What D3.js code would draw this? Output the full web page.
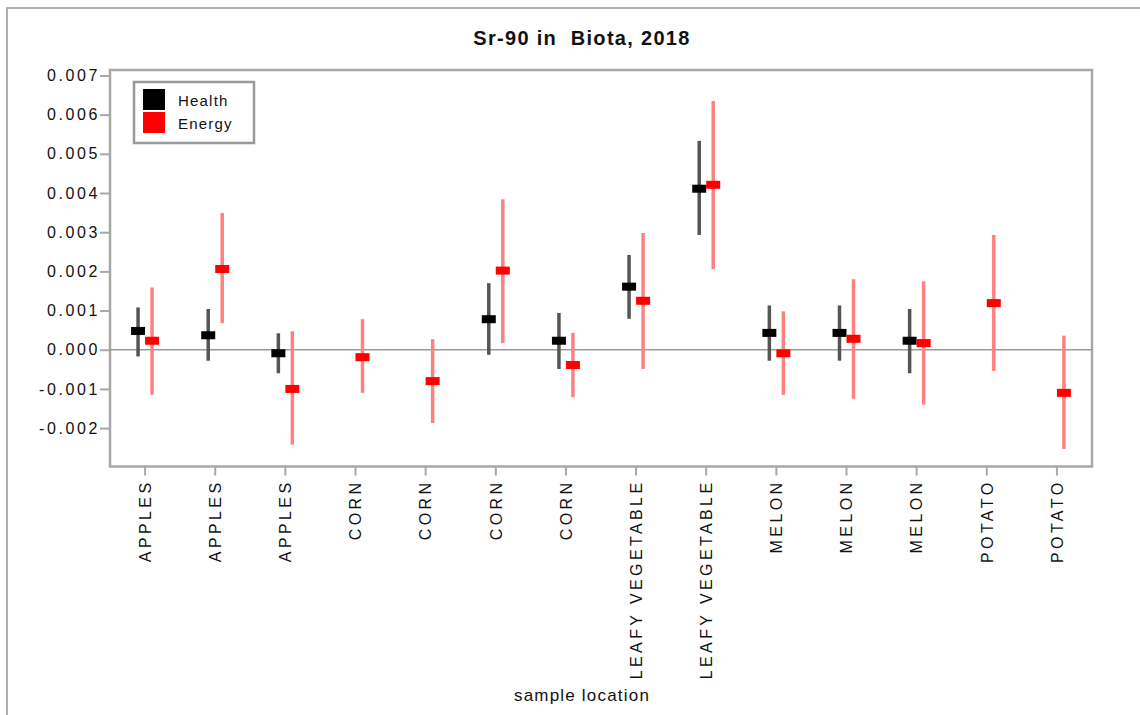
<!DOCTYPE html>
<html>
<head>
<meta charset="utf-8">
<script src="https://cdn.jsdelivr.net/npm/d3@7"></script>
<style>
  html, body { margin: 0; padding: 0; background: #fff; }
  svg { display: block; font-family: "Liberation Sans", Arial, sans-serif; }
</style>
</head>
<body>
<svg id="chart" width="1140" height="715"></svg>
<script>
const categories = ["APPLES","APPLES","APPLES","CORN","CORN","CORN","CORN","LEAFY VEGETABLE","LEAFY VEGETABLE","MELON","MELON","MELON","POTATO","POTATO"];
const healthMean = [0.00048, 0.00037, -0.00009, null, null, 0.00078, 0.00023, 0.00161, 0.00411, 0.00043, 0.00043, 0.00023, null, null];
const healthLow  = [-0.00017, -0.00028, -0.00060, null, null, -0.00013, -0.00049, 0.00079, 0.00293, -0.00028, -0.00028, -0.00060, null, null];
const healthHigh = [0.00108, 0.00104, 0.00042, null, null, 0.00170, 0.00094, 0.00242, 0.00533, 0.00113, 0.00113, 0.00104, null, null];
const energyMean = [0.00023, 0.00206, -0.00100, -0.00019, -0.00080, 0.00202, -0.00039, 0.00125, 0.00421, -0.00009, 0.00028, 0.00017, 0.00119, -0.00110];
const energyLow  = [-0.00115, 0.00068, -0.00242, -0.00110, -0.00187, 0.00017, -0.00121, -0.00049, 0.00206, -0.00115, -0.00125, -0.00140, -0.00054, -0.00253];
const energyHigh = [0.00159, 0.00349, 0.00047, 0.00078, 0.00027, 0.00384, 0.00043, 0.00298, 0.00635, 0.00098, 0.00180, 0.00175, 0.00293, 0.00036];
const yTicks = [-0.002, -0.001, 0, 0.001, 0.002, 0.003, 0.004, 0.005, 0.006, 0.007];
const yTickLabels = ["-0.002", "-0.001", "0.000", "0.001", "0.002", "0.003", "0.004", "0.005", "0.006", "0.007"];
const seriesNames = ["Health", "Energy"];
const seriesColors = ["#000000", "#ff0000"];
const seriesBarColors = ["#555555", "#ff8080"];
const titleText = "Sr-90 in  Biota, 2018";
const xTitle = "sample location";

(function () {
const svg = d3.select("#chart");
const pL = 110, pR = 1092, pT = 70, pB = 466.5;

// outer frame
svg.append("path").attr("d", "M7,715 V8 H1140").attr("fill", "none").attr("stroke", "#b0b0b0").attr("stroke-width", 2);

const x = d3.scaleBand().domain(d3.range(categories.length)).range([pL, pR]);
const y = d3.scaleLinear().domain([-0.00298, 0.00714]).range([pB, pT]);
const gray = "#a8a8a8";

// title
svg.append("text").attr("x", 582).attr("y", 45).attr("text-anchor", "middle")
  .style("white-space", "pre").attr("xml:space", "preserve")
  .attr("font-size", 20).attr("font-weight", "bold").attr("letter-spacing", 1.3).attr("fill", "#111")
  .text(titleText);

// y axis
const yAxis = svg.append("g").attr("transform", `translate(${pL},0)`)
  .call(d3.axisLeft(y).tickValues(yTicks).tickSize(10).tickFormat((d, i) => yTickLabels[i]));
yAxis.select(".domain").remove();
yAxis.selectAll(".tick line").attr("stroke", gray).attr("stroke-width", 2);
yAxis.selectAll(".tick text").attr("x", -10).attr("font-size", 16).attr("letter-spacing", 2.6)
  .attr("fill", "#111").attr("font-family", "Liberation Sans, Arial, sans-serif");

// x axis
const xAxis = svg.append("g").attr("transform", `translate(0,${pB})`)
  .call(d3.axisBottom(x).tickSize(9).tickFormat(i => categories[i]));
xAxis.select(".domain").remove();
xAxis.selectAll(".tick line").attr("stroke", gray).attr("stroke-width", 2);
xAxis.selectAll(".tick text")
  .attr("transform", "rotate(-90)")
  .attr("text-anchor", "end").attr("x", -13).attr("y", 0).attr("dy", "0.36em")
  .attr("font-size", 16).attr("letter-spacing", 3.4).attr("fill", "#111")
  .attr("font-family", "Liberation Sans, Arial, sans-serif");

// plot frame
svg.append("rect").attr("x", pL).attr("y", pT).attr("width", pR - pL).attr("height", pB - pT)
  .attr("fill", "none").attr("stroke", gray).attr("stroke-width", 2.5);

// zero line
svg.append("line").attr("x1", pL).attr("x2", pR).attr("y1", y(0)).attr("y2", y(0))
  .attr("stroke", "#999").attr("stroke-width", 1.5);

// x title
svg.append("text").attr("x", 582).attr("y", 701).attr("text-anchor", "middle")
  .attr("font-size", 17).attr("letter-spacing", 1.2).attr("fill", "#111").text(xTitle);

// data
const series = [
  { mean: healthMean, low: healthLow, high: healthHigh, off: -7 },
  { mean: energyMean, low: energyLow, high: energyHigh, off: 7 }
];
series.forEach((s, si) => {
  const idx = d3.range(categories.length).filter(i => s.mean[i] !== null);
  const g = svg.append("g");
  g.selectAll("line.err").data(idx).join("line").attr("class", "err")
    .attr("x1", i => x(i) + x.bandwidth() / 2 + s.off)
    .attr("x2", i => x(i) + x.bandwidth() / 2 + s.off)
    .attr("y1", i => y(s.low[i])).attr("y2", i => y(s.high[i]))
    .attr("stroke", seriesBarColors[si]).attr("stroke-width", 3.5);
  g.selectAll("rect.m").data(idx).join("rect").attr("class", "m")
    .attr("x", i => x(i) + x.bandwidth() / 2 + s.off - 7)
    .attr("y", i => y(s.mean[i]) - 4)
    .attr("width", 14).attr("height", 8)
    .attr("fill", seriesColors[si]);
});

// legend
const lg = svg.append("g");
lg.append("rect").attr("x", 134).attr("y", 82).attr("width", 120).attr("height", 61)
  .attr("fill", "#fff").attr("stroke", "#999").attr("stroke-width", 2.5);
seriesNames.forEach((n, i) => {
  lg.append("rect").attr("x", 143).attr("y", 89 + i * 23).attr("width", 22).attr("height", 21).attr("fill", seriesColors[i]);
  lg.append("text").attr("x", 178).attr("y", 106 + i * 23).attr("font-size", 15).attr("letter-spacing", 1.2)
    .attr("fill", "#111").text(n);
});
})();
</script>
</body>
</html>
